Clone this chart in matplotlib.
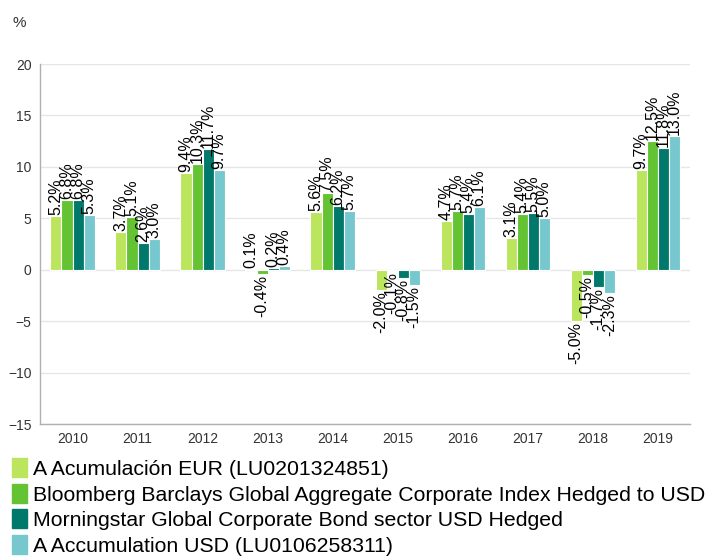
import matplotlib
matplotlib.use('Agg')
import matplotlib.pyplot as plt
import matplotlib.patches as mpatches
import numpy as np

plt.rcParams['font.family'] = ['Liberation Sans', 'DejaVu Sans']

years = ['2010', '2011', '2012', '2013', '2014', '2015', '2016', '2017', '2018', '2019']
fund_eur = [5.2, 3.7, 9.4, 0.1, 5.6, -2.0, 4.7, 3.1, -5.0, 9.7]
index_bbg = [6.8, 5.1, 10.3, -0.4, 7.5, -0.1, 5.7, 5.4, -0.5, 12.5]
sector_ms = [6.8, 2.6, 11.7, 0.2, 6.2, -0.8, 5.4, 5.5, -1.7, 11.8]
fund_usd = [5.3, 3.0, 9.7, 0.4, 5.7, -1.5, 6.1, 5.0, -2.3, 13.0]

series_names = ['A Acumulación EUR (LU0201324851)',
                'Bloomberg Barclays Global Aggregate Corporate Index Hedged to USD',
                'Morningstar Global Corporate Bond sector USD Hedged',
                'A Accumulation USD (LU0106258311)']
colors = ['#bae55c', '#63c333', '#00796b', '#77c8ce']

fig = plt.figure(figsize=(7.22, 5.59), dpi=100)
ax = fig.add_axes([0.0554, 0.2415, 0.9006, 0.644])

x = np.arange(len(years))
w = 0.17
series = [fund_eur, index_bbg, sector_ms, fund_usd]
for i, (vals, c) in enumerate(zip(series, colors)):
    pos = x + (i - 1.5) * w
    ax.bar(pos, vals, width=w, color=c, edgecolor='white', linewidth=0.8, zorder=3)
    for px, v in zip(pos, vals):
        if v >= 0:
            ax.text(px, v + 0.1, '{:.1f}%'.format(v), rotation=90, ha='center',
                    va='bottom', fontsize=11.5, color='black', zorder=4)
        else:
            ax.text(px, v - 0.1, '{:.1f}%'.format(v), rotation=90, ha='center',
                    va='top', fontsize=11.5, color='black', zorder=4)

ax.set_xlim(-0.5, len(years) - 0.5)
ax.set_ylim(-15, 20)
ax.set_yticks(np.arange(-15, 21, 5))
ax.set_xticks(x)
ax.set_xticklabels(years)
ax.tick_params(axis='both', labelsize=10, colors='#333333', length=0, pad=6)
ax.grid(axis='y', color='#e6e6e6', linewidth=1, zorder=0)
for s in ['top', 'right']:
    ax.spines[s].set_visible(False)
for s in ['left', 'bottom']:
    ax.spines[s].set_color('#b0b0b0')
    ax.spines[s].set_linewidth(1)

fig.text(0.018, 0.958, '%', fontsize=11, color='#333333', ha='left', va='center')

handles = [mpatches.Patch(color=c) for c in colors]
fig.legend(handles, series_names, loc='upper left', bbox_to_anchor=(0.017, 0.18),
           frameon=False, fontsize=15.3, handlelength=0.7, handleheight=1.0,
           handletextpad=0.28, labelspacing=0.22, borderaxespad=0, borderpad=0.0)

fig.savefig('out.png', dpi=100)
